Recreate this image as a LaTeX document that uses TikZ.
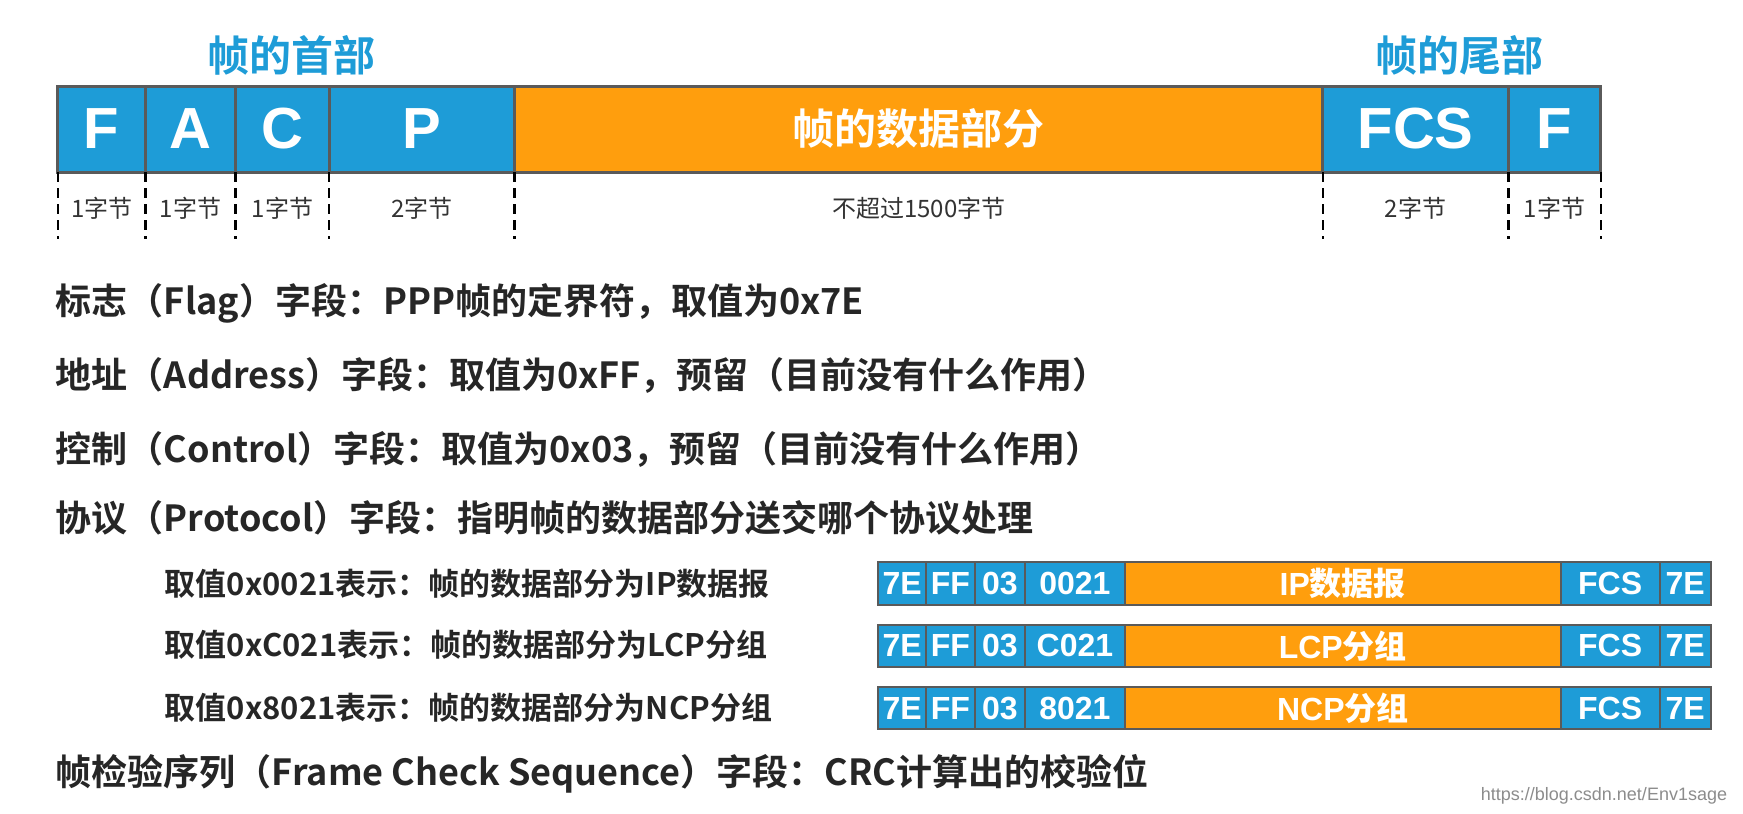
\documentclass[tikz,border=0pt]{standalone}
\usepackage{fontspec}
\setmainfont{Noto Sans CJK SC}
\newfontfamily\cjkb{Noto Sans CJK SC Bold}
\newfontfamily\lab[BoldFont={Liberation Sans Bold}]{Liberation Sans}
\definecolor{fb}{HTML}{1E9CD7}
\definecolor{fo}{HTML}{FF9E0D}
\definecolor{bd}{HTML}{5A5A5A}
\definecolor{tx}{HTML}{333333}
\begin{document}
\begin{tikzpicture}[x=0.5558pt,y=-0.5558pt,
  cell/.style={draw=bd,line width=1.5pt},
  big/.style={font=\fontsize{29}{29}\selectfont\bfseries\lab,text=white},
  sml/.style={font=\fontsize{16}{16}\selectfont\bfseries\lab,text=white},
  lbl/.style={font=\fontsize{12}{12}\selectfont,text=tx},
  line/.style={anchor=west,font=\fontsize{18}{18}\selectfont\cjkb,text=black!85},
  sub/.style={anchor=west,font=\fontsize{15.5}{15.5}\selectfont\cjkb,text=black!85}]
\useasboundingbox (0,0) rectangle (1568,732);
\node[font=\fontsize{21}{21}\selectfont\cjkb,text=fb] (h1) at (262,50) {帧的首部};
\node[font=\fontsize{21}{21}\selectfont\cjkb,text=fb] (h2) at (1313,50) {帧的尾部};
\def\ya{78}\def\yb{155}
\foreach \a/\b/\c/\t/\n in {52/131/fb/F/c1,131/212/fb/A/c2,212/296/fb/C/c3,296/463/fb/P/c4,463/1190/fo/{}/c5,1190/1357/fb/FCS/c6,1357/1440/fb/F/c7}{
  \fill[\c] (\a,\ya) rectangle (\b,\yb);
  \draw[cell] (\a,\ya) rectangle (\b,\yb);
  \node[big] (\n) at ({(\a+\b)/2},116) {\t};
}
\node[font=\fontsize{21}{21}\selectfont\cjkb,text=white] (dt) at (c5) {帧的数据部分};
\foreach \x in {52,131,212,296,463,1190,1357,1440}
  \draw[line width=1.2pt,dash pattern=on 5pt off 3pt] (\x,\yb) -- (\x,215);
\foreach \a/\b/\t/\n in {52/131/1字节/l1,131/212/1字节/l2,212/296/1字节/l3,296/463/2字节/l4,463/1190/不超过1500字节/l5,1190/1357/2字节/l6,1357/1440/1字节/l7}
  \node[lbl] (\n) at ({(\a+\b)/2},187) {\t};
\node[line] (t1) at (44,273) {标志（Flag）字段：PPP帧的定界符，取值为0x7E};
\node[line] (t2) at (44,338) {地址（Address）字段：取值为0xFF，预留（目前没有什么作用）};
\node[line] (t3) at (44,404) {控制（Control）字段：取值为0x03，预留（目前没有什么作用）};
\node[line] (t4) at (44,466) {协议（Protocol）字段：指明帧的数据部分送交哪个协议处理};
\node[line] (t5) at (44,696) {帧检验序列（Frame Check Sequence）字段：CRC计算出的校验位};
\node[sub] (s1) at (142,525) {取值0x0021表示：帧的数据部分为IP数据报};
\node[sub] (s2) at (142,580) {取值0xC021表示：帧的数据部分为LCP分组};
\node[sub] (s3) at (142,637) {取值0x8021表示：帧的数据部分为NCP分组};
\foreach \y/\p/\d/\k in {506/0021/IP{\cjkb 数据报}/a,562/C021/LCP{\cjkb 分组}/b,618/8021/NCP{\cjkb 分组}/c}{
  \foreach \a/\b/\c/\t/\i in {790/833/fb/7E/1,833/877/fb/FF/2,877/922/fb/03/3,922/1012/fb/\p/4,1012/1404/fo/\d/5,1404/1493/fb/FCS/6,1493/1539/fb/7E/7}{
    \fill[\c] (\a,\y) rectangle (\b,\y+38);
    \draw[draw=bd,line width=1pt] (\a,\y) rectangle (\b,\y+38);
    \node[sml] (m\k\i) at ({(\a+\b)/2},\y+19) {\t};
  }
}
\node[anchor=east,font=\fontsize{9}{9}\selectfont\lab,text=black!45] (wm) at (1560,716) {https://blog.csdn.net/Env1sage};
\end{tikzpicture}
\end{document}
